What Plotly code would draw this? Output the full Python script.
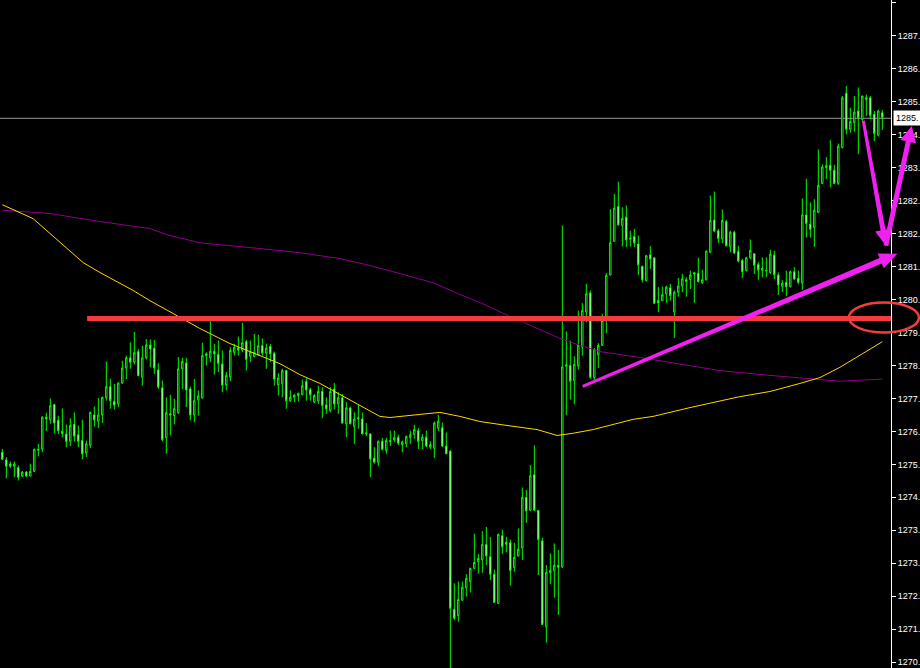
import plotly.graph_objects as go

# ---------------- data ----------------
OPEN = [1276.03,1275.82,1275.71,1275.65,1275.61,1275.38,1275.49,1275.38,1275.51,1276.11,
        1276.12,1276.99,1276.92,1277.33,1276.90,1276.60,1276.53,1276.33,1276.79,1276.51,
        1276.35,1276.01,1276.22,1277.05,1276.88,1277.05,1277.52,1277.82,1277.42,1277.35,
        1277.92,1278.33,1278.61,1278.49,1278.78,1278.08,1278.61,1278.96,1278.87,1278.28,
        1277.79,1276.43,1277.08,1277.03,1277.11,1278.31,1278.47,1277.76,1277.05,1277.46,
        1277.51,1278.67,1278.61,1278.78,1278.70,1278.44,1277.87,1278.08,1278.76,1278.88,
        1278.82,1279.05,1278.65,1278.65,1278.69,1278.94,1278.74,1278.92,1278.73,1277.87,
        1277.90,1278.26,1277.44,1277.53,1277.58,1277.61,1277.96,1277.74,1277.40,1277.43,
        1277.69,1277.32,1277.17,1277.76,1277.35,1277.52,1276.81,1277.24,1276.74,1276.94,
        1276.94,1276.53,1276.53,1275.87,1275.76,1276.33,1276.08,1276.35,1276.37,1276.44,
        1276.24,1276.26,1276.43,1276.52,1276.62,1276.35,1276.44,1276.17,1276.14,1276.69,
        1276.70,1276.20,1276.06,1271.74,1271.57,1271.99,1272.33,1272.50,1272.86,1273.04,
        1273.10,1273.51,1273.18,1272.70,1271.90,1273.75,1273.57,1273.56,1272.88,1273.20,
        1273.42,1274.80,1274.45,1275.42,1274.44,1273.61,1271.27,1272.74,1272.80,1272.94,
        1272.90,1278.38,1278.40,1277.99,1278.39,1278.90,1279.86,1280.38,1278.07,1278.69,
        1278.95,1279.63,1280.87,1281.79,1282.74,1282.22,1282.45,1281.88,1281.92,1281.72,
        1281.10,1280.72,1281.42,1281.34,1280.17,1280.17,1280.36,1280.52,1279.86,1280.40,
        1280.57,1280.74,1280.75,1280.93,1280.92,1280.66,1280.74,1281.49,1282.37,1282.08,
        1281.86,1282.33,1281.65,1282.04,1281.51,1281.27,1280.99,1281.34,1281.45,1281.16,
        1281.00,1280.98,1280.94,1281.41,1280.87,1280.56,1280.67,1280.55,1280.96,1280.78,
        1280.65,1282.51,1282.26,1282.17,1282.58,1283.37,1283.80,1283.87,1283.73,1283.37,
        1284.35,1285.83,1284.85,1285.03,1285.35,1285.12,1285.71,1285.71,1285.26,1284.69,
        1285.30]
HIGH = [1276.12,1275.90,1275.78,1275.78,1275.67,1275.52,1275.52,1275.72,1276.13,1276.26,
        1277.01,1277.11,1277.50,1277.35,1277.03,1277.23,1276.79,1276.96,1277.12,1276.76,
        1276.92,1276.35,1277.14,1277.28,1277.51,1277.55,1278.51,1278.04,1277.90,1277.94,
        1278.53,1278.67,1279.03,1279.32,1278.85,1278.94,1279.12,1279.11,1279.10,1278.46,
        1277.99,1277.53,1277.60,1277.49,1278.63,1278.61,1278.61,1277.82,1278.03,1277.72,
        1279.02,1278.76,1279.62,1278.99,1279.08,1278.81,1278.22,1278.90,1278.99,1279.19,
        1279.57,1279.10,1279.08,1279.26,1279.24,1279.14,1278.99,1278.99,1278.78,1278.19,
        1278.31,1278.28,1277.72,1277.62,1277.66,1278.02,1278.05,1277.79,1277.62,1277.85,
        1277.81,1277.53,1277.81,1277.92,1277.67,1277.62,1277.40,1277.28,1277.12,1277.33,
        1277.12,1276.83,1276.55,1276.17,1276.35,1276.42,1276.43,1276.62,1276.62,1276.51,
        1276.35,1276.49,1276.62,1276.78,1276.69,1276.53,1276.62,1276.33,1276.87,1277.05,
        1276.84,1276.57,1276.09,1272.45,1272.50,1272.50,1272.70,1272.88,1273.81,1273.25,
        1273.88,1273.99,1273.72,1272.83,1273.81,1273.92,1273.72,1273.65,1273.56,1273.95,
        1275.07,1275.00,1275.68,1276.22,1274.44,1273.70,1272.95,1273.27,1273.54,1273.36,
        1282.22,1279.33,1279.08,1278.65,1279.90,1280.10,1280.63,1280.45,1278.88,1279.01,
        1279.81,1280.92,1282.67,1283.08,1283.42,1282.72,1282.77,1282.08,1282.13,1281.95,
        1281.13,1281.42,1281.66,1281.36,1280.54,1280.56,1280.58,1280.63,1280.45,1280.79,
        1280.90,1280.81,1280.99,1280.95,1281.34,1281.01,1281.54,1283.04,1283.15,1282.13,
        1282.66,1282.37,1282.08,1282.08,1281.67,1281.31,1281.37,1281.84,1281.47,1281.22,
        1281.35,1281.35,1281.56,1281.53,1280.94,1280.73,1280.99,1280.99,1281.08,1280.99,
        1282.96,1283.50,1282.85,1282.94,1284.30,1283.89,1284.09,1284.55,1283.88,1284.46,
        1285.76,1286.03,1285.44,1285.76,1285.99,1285.76,1285.80,1285.76,1285.35,1285.38,
        1285.38]
LOW = [1275.82,1275.32,1275.60,1275.35,1275.26,1275.35,1275.37,1275.38,1275.49,1275.92,
       1276.03,1276.61,1276.81,1276.55,1276.53,1276.44,1276.17,1276.20,1276.32,1276.17,
       1275.84,1275.90,1276.14,1276.73,1276.69,1276.83,1277.44,1277.22,1277.20,1277.26,
       1277.90,1278.03,1278.31,1278.43,1278.12,1277.85,1278.56,1278.35,1278.17,1277.76,
       1276.33,1275.99,1276.49,1276.79,1277.08,1277.76,1277.26,1276.90,1276.85,1277.03,
       1277.51,1278.40,1278.49,1278.15,1278.22,1277.67,1277.72,1277.97,1278.67,1278.67,
       1278.76,1278.26,1278.49,1278.62,1278.67,1278.67,1278.31,1278.49,1277.85,1277.58,
       1277.53,1277.22,1277.40,1277.40,1277.42,1277.58,1277.44,1277.44,1277.37,1277.35,
       1276.96,1277.08,1277.12,1277.20,1277.08,1276.81,1276.44,1276.79,1276.26,1276.67,
       1276.52,1276.47,1275.35,1275.72,1275.65,1276.08,1275.99,1276.20,1276.31,1276.23,
       1276.03,1276.17,1276.26,1276.40,1276.12,1276.12,1276.17,1276.12,1275.87,1276.61,
       1276.17,1275.98,1269.90,1271.45,1271.40,1271.98,1272.09,1272.20,1272.84,1272.72,
       1272.74,1272.95,1272.54,1271.93,1271.90,1273.25,1273.30,1272.39,1272.77,1273.18,
       1273.09,1274.10,1274.43,1274.43,1272.68,1271.33,1270.83,1272.43,1272.06,1271.59,
       1272.87,1277.04,1277.47,1277.34,1278.29,1278.67,1279.58,1278.04,1277.97,1278.33,
       1278.93,1279.28,1280.86,1281.79,1282.22,1281.65,1281.63,1281.65,1281.63,1280.87,
       1280.67,1280.69,1281.04,1280.08,1279.86,1280.16,1280.11,1280.17,1279.15,1280.28,
       1280.40,1280.28,1280.49,1280.11,1280.67,1280.63,1280.72,1281.47,1282.04,1281.74,
       1281.74,1281.65,1281.49,1281.45,1281.22,1280.79,1280.97,1281.31,1280.90,1280.74,
       1280.80,1280.82,1280.90,1280.76,1280.33,1280.41,1280.29,1280.53,1280.74,1280.62,
       1280.47,1281.89,1281.89,1281.64,1282.56,1283.35,1283.49,1283.26,1283.35,1283.33,
       1284.33,1284.71,1284.76,1284.78,1284.17,1285.08,1285.21,1285.12,1284.53,1284.65,
       1284.83]
CLOSE = [1275.84,1275.65,1275.65,1275.71,1275.35,1275.49,1275.38,1275.51,1276.11,1276.09,
         1276.99,1276.94,1277.30,1276.83,1276.62,1276.55,1276.33,1276.76,1276.47,1276.33,
         1275.99,1276.26,1277.12,1276.92,1277.05,1277.53,1277.82,1277.44,1277.32,1277.92,
         1278.33,1278.61,1278.49,1278.75,1278.12,1278.61,1278.96,1278.85,1278.33,1277.81,
         1276.37,1277.11,1277.05,1277.22,1278.31,1278.51,1277.73,1277.05,1277.44,1277.57,
         1278.67,1278.72,1278.79,1278.72,1278.46,1277.87,1278.13,1278.81,1278.90,1278.82,
         1279.02,1278.57,1278.78,1278.76,1278.94,1278.74,1278.88,1278.72,1278.03,1278.06,
         1278.26,1277.44,1277.53,1277.59,1277.64,1277.85,1277.73,1277.60,1277.58,1277.69,
         1277.31,1277.22,1277.69,1277.35,1277.52,1276.83,1277.24,1276.81,1276.94,1276.97,
         1276.53,1276.56,1275.85,1275.76,1276.33,1276.11,1276.35,1276.33,1276.43,1276.28,
         1276.31,1276.46,1276.51,1276.65,1276.33,1276.44,1276.20,1276.24,1276.83,1276.88,
         1276.20,1275.99,1271.77,1271.50,1272.01,1272.34,1272.59,1272.86,1273.02,1273.13,
         1273.51,1273.20,1272.70,1271.93,1273.79,1273.45,1273.52,1272.80,1273.16,1273.38,
         1274.80,1274.43,1275.39,1274.45,1273.65,1271.33,1272.75,1272.80,1272.94,1272.89,
         1278.36,1278.42,1277.97,1278.43,1278.95,1279.90,1280.36,1278.08,1278.84,1278.95,
         1279.63,1280.86,1281.75,1282.70,1282.24,1282.42,1281.83,1281.86,1281.75,1281.15,
         1280.74,1281.40,1281.31,1280.10,1280.11,1280.33,1280.54,1280.31,1280.40,1280.57,
         1280.77,1280.70,1280.87,1280.90,1280.69,1280.74,1281.52,1282.36,1282.07,1281.87,
         1282.36,1281.67,1282.04,1281.47,1281.25,1280.97,1281.34,1281.54,1281.14,1281.01,
         1281.06,1281.00,1281.44,1280.88,1280.60,1280.65,1280.55,1280.96,1280.76,1280.67,
         1282.51,1282.28,1282.12,1282.64,1283.32,1283.82,1283.86,1283.73,1283.37,1284.39,
         1285.71,1284.85,1285.06,1285.32,1285.17,1285.76,1285.67,1285.23,1284.74,1285.35,
         1285.17]
BAR = list(range(len(OPEN)))

# yellow (fast) moving average, read at sample bars
MA_FAST_BAR = [0, 7.7, 20.2, 24.4, 32.7, 36.9, 42.7, 49.4, 56.9, 64.4, 69.4, 74.4, 79.4,
               84.4, 89.4, 94.4, 96.9, 102.7, 109.4, 114.4, 119.4, 124.4, 129.4, 133.7,
               138.7, 142.7, 147.7, 152.7, 157.7, 162.7, 166.9, 171.9, 184.4, 191.9,
               199.4, 204.4, 209.4, 214.4, 220]
MA_FAST = [1282.79, 1282.41, 1281.21, 1280.94, 1280.45, 1280.17, 1279.82, 1279.41, 1279.00,
           1278.67, 1278.45, 1278.15, 1277.91, 1277.61, 1277.31, 1277.01, 1276.98, 1277.04,
           1277.12, 1277.01, 1276.87, 1276.79, 1276.71, 1276.65, 1276.49, 1276.55, 1276.65,
           1276.79, 1276.93, 1277.01, 1277.12, 1277.25, 1277.55, 1277.69, 1277.91, 1278.07,
           1278.35, 1278.67, 1279.05]
# purple (slow) moving average
MA_SLOW_BAR = [0, 11.9, 24.4, 36.9, 41.2, 49.4, 61.9, 74.4, 84.4, 91.2, 99.4, 107.7, 114.4,
               119.4, 126.9, 134.4, 139.4, 144.4, 149.4, 159.4, 169.4, 179.4, 191.9, 209.4, 220]
MA_SLOW = [1282.64, 1282.55, 1282.33, 1282.14, 1281.97, 1281.75, 1281.62, 1281.48, 1281.32,
           1281.15, 1280.91, 1280.66, 1280.34, 1280.12, 1279.74, 1279.38, 1279.14, 1278.95,
           1278.78, 1278.62, 1278.43, 1278.26, 1278.13, 1277.97, 1278.03]

# price scale: tick positions and the (truncated) labels visible in the reference
Y_TICKS = [1270.30, 1271.20, 1272.10, 1273.00, 1273.90, 1274.80, 1275.70, 1276.60, 1277.50,
           1278.40, 1279.30, 1280.20, 1281.10, 1282.00, 1282.90, 1283.80, 1284.70, 1285.60,
           1286.50, 1287.40, 1288.30]
Y_TICK_LABELS = ["1270.", "1271.", "1272.", "1273.", "1273.", "1274.", "1275.",
                 "1276.", "1277.", "1278.", "1279.", "1280.", "1281.", "1282.",
                 "1282.", "1283.", "1284.", "1285.", "1286.", "1287.", "1288."]

CURRENT_PRICE = 1285.15
CURRENT_LABEL = "1285."
RED_LEVEL = 1279.68
RED_LEVEL_START_BAR = 21.2

# hand-drawn annotations (bar index, price)
ARROWS = [  # start, end, shaft width start/end px, head length px, head half width px
    ((145.1, 1277.83), (223.75, 1281.45), 3, 6, 18, 8),
    ((215.25, 1285.08), (220.9, 1281.67), 3, 5, 16, 8),
    ((220.9, 1281.67), (227.35, 1284.94), 5, 5, 16, 8),
]
ELLIPSE_CENTER = (220.4, 1279.71)
ELLIPSE_RX_BARS = 8.75
ELLIPSE_RY_PRICE = 0.41

# ---------------- layout geometry ----------------
W, H = 920, 668
PLOT_W, PLOT_H = 891, 668
X_RANGE = [-0.575, 222.175]
Y_RANGE = [1270.14, 1288.38]


def to_px(bar, price):
    px = (bar - X_RANGE[0]) / (X_RANGE[1] - X_RANGE[0]) * PLOT_W
    py = (Y_RANGE[1] - price) / (Y_RANGE[1] - Y_RANGE[0]) * PLOT_H
    return px, py


def px_to_paper(px, py):
    return px / PLOT_W, 1 - py / PLOT_H


def arrow_path(start, end, w0, w1, head_len, head_hw):
    sx, sy = to_px(*start)
    ex, ey = to_px(*end)
    dx, dy = ex - sx, ey - sy
    L = (dx * dx + dy * dy) ** 0.5
    ux, uy = dx / L, dy / L
    nx, ny = -uy, ux
    bx, by = ex - ux * head_len, ey - uy * head_len
    pts = [
        (sx + nx * w0 / 2, sy + ny * w0 / 2),
        (bx + nx * w1 / 2, by + ny * w1 / 2),
        (bx + nx * head_hw, by + ny * head_hw),
        (ex, ey),
        (bx - nx * head_hw, by - ny * head_hw),
        (bx - nx * w1 / 2, by - ny * w1 / 2),
        (sx - nx * w0 / 2, sy - ny * w0 / 2),
    ]
    pp = [px_to_paper(x, y) for x, y in pts]
    return "M " + " L ".join(f"{x:.5f},{y:.5f}" for x, y in pp) + " Z"


GREEN = "#00FF00"
MAGENTA = "#F020F0"
RED = "#F43C3C"

fig = go.Figure()
fig.add_trace(go.Candlestick(
    x=BAR, open=OPEN, high=HIGH, low=LOW, close=CLOSE,
    increasing=dict(line=dict(color=GREEN, width=1), fillcolor="black"),
    decreasing=dict(line=dict(color=GREEN, width=1), fillcolor="white"),
    whiskerwidth=0, hoverinfo="skip", showlegend=False,
))
fig.add_trace(go.Scatter(x=MA_SLOW_BAR, y=MA_SLOW, mode="lines",
                         line=dict(color="#8B008B", width=1), hoverinfo="skip", showlegend=False))
fig.add_trace(go.Scatter(x=MA_FAST_BAR, y=MA_FAST, mode="lines",
                         line=dict(color="#FFD700", width=1), hoverinfo="skip", showlegend=False))

shapes = []
# current bid line
shapes.append(dict(type="line", xref="x", yref="y", x0=X_RANGE[0], x1=X_RANGE[1],
                   y0=CURRENT_PRICE, y1=CURRENT_PRICE, line=dict(color="#9A9A9A", width=1),
                   layer="below"))
# red horizontal level
shapes.append(dict(type="line", xref="x", yref="y", x0=RED_LEVEL_START_BAR, x1=X_RANGE[1],
                   y0=RED_LEVEL, y1=RED_LEVEL, line=dict(color=RED, width=5)))
# red ellipse
cx, cy = ELLIPSE_CENTER
ex0, ey0 = px_to_paper(*to_px(cx - ELLIPSE_RX_BARS, cy + ELLIPSE_RY_PRICE))
ex1, ey1 = px_to_paper(*to_px(cx + ELLIPSE_RX_BARS, cy - ELLIPSE_RY_PRICE))
shapes.append(dict(type="circle", xref="paper", yref="paper", x0=ex0, x1=ex1, y0=ey1, y1=ey0,
                   line=dict(color=RED, width=2.5)))
# magenta arrows
for a in ARROWS:
    shapes.append(dict(type="path", xref="paper", yref="paper", path=arrow_path(*a),
                       fillcolor=MAGENTA, line=dict(color=MAGENTA, width=0)))

fig.update_layout(
    width=W, height=H,
    margin=dict(l=0, r=W - PLOT_W, t=0, b=0),
    paper_bgcolor="black", plot_bgcolor="black",
    showlegend=False, boxgap=0.5,
    xaxis=dict(range=X_RANGE, visible=False, rangeslider=dict(visible=False), fixedrange=True),
    yaxis=dict(range=Y_RANGE, side="right", tickmode="array", tickvals=Y_TICKS,
               ticktext=Y_TICK_LABELS, ticks="outside", ticklen=4, tickwidth=1,
               tickcolor="white", showline=True, linecolor="white", linewidth=1,
               showgrid=False, zeroline=False, automargin=False, fixedrange=True,
               tickfont=dict(family="Liberation Sans", size=9, color="white")),
    shapes=shapes,
    annotations=[dict(xref="paper", yref="y", x=(PLOT_W + 2) / PLOT_W, y=CURRENT_PRICE,
                      xanchor="left", yanchor="middle", text=CURRENT_LABEL, showarrow=False,
                      bgcolor="white", borderpad=2,
                      font=dict(family="Liberation Sans", size=9, color="black"))],
)

fig.write_html("out.html", config={"displayModeBar": False},
               post_script="document.body.style.margin='0';document.body.style.overflow='hidden';")
